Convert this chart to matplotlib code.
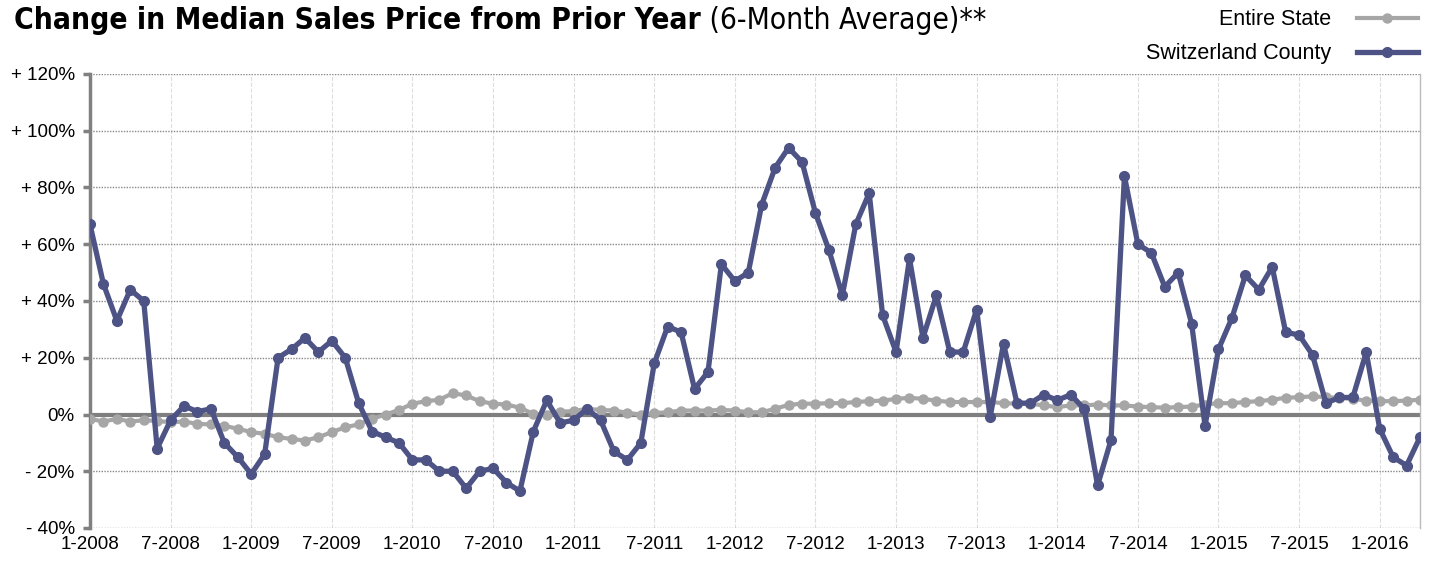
import matplotlib
matplotlib.use("Agg")
import matplotlib.pyplot as plt
from matplotlib.ticker import FixedLocator

# monthly, 1-2008 .. 4-2016
county = [67, 46, 33, 44, 40, -12, -2, 3, 1, 2, -10, -15,
          -21, -14, 20, 23, 27, 22, 26, 20, 4, -6, -8, -10,
          -16, -16, -20, -20, -26, -20, -19, -24, -27, -6, 5, -3,
          -2, 2, -2, -13, -16, -10, 18, 31, 29, 9, 15, 53,
          47, 50, 74, 87, 94, 89, 71, 58, 42, 67, 78, 35,
          22, 55, 27, 42, 22, 22, 37, -1, 25, 4, 4, 7,
          5, 7, 2, -25, -9, 84, 60, 57, 45, 50, 32, -4,
          23, 34, 49, 44, 52, 29, 28, 21, 4, 6, 6, 22,
          -5, -15, -18, -8]
state = [-1.5, -2.5, -1.5, -2.5, -2, -2.3, -2.7, -2.5, -3.3, -3.5, -4, -5,
         -6.2, -6.8, -8, -8.6, -9.2, -8, -6.2, -4.5, -3.5, -1.5, 0, 1.6,
         3.8, 4.7, 5.2, 7.5, 6.7, 4.7, 3.8, 3.5, 2.4, 0.2, 0, 1,
         1.2, 2, 1.6, 1.4, 0.6, 0, 0.5, 0.8, 1.4, 1.4, 1.4, 1.6,
         1.4, 0.8, 0.8, 2, 3.4, 3.8, 3.8, 4, 4, 4.4, 4.7, 4.9,
         5.5, 5.9, 5.5, 4.9, 4.4, 4.4, 4.4, 4.4, 4, 3.8, 3.8, 3.2,
         2.6, 3.2, 3.2, 3.5, 3.2, 3.2, 2.8, 2.6, 2.4, 2.6, 2.8, 3.5,
         4, 4, 4.4, 4.7, 5.2, 5.9, 6.1, 6.4, 6.1, 5.9, 5.5, 4.9,
         4.7, 4.7, 4.9, 5.2]
x_labels = ["1-2008", "7-2008", "1-2009", "7-2009", "1-2010", "7-2010", "1-2011", "7-2011",
            "1-2012", "7-2012", "1-2013", "7-2013", "1-2014", "7-2014", "1-2015", "7-2015", "1-2016"]
y_ticks = [-40, -20, 0, 20, 40, 60, 80, 100, 120]

navy = "#4d5485"
grey = "#a6a6a6"
plt.rcParams['font.family'] = ['Liberation Sans', 'DejaVu Sans']

fig = plt.figure(figsize=(14.29, 5.61), dpi=100)
ax = fig.add_axes([90/1429, 1-528/561, 1330/1429, 454/561])

months = list(range(len(county)))
ax.axhline(0, color="#7f7f7f", lw=3, zorder=2)
ax.plot(months, state, color=grey, lw=3, marker='o', markersize=6.5, zorder=3, label="Entire State")
ax.plot(months, county, color=navy, lw=3.8, marker='o', markersize=7, zorder=4, label="Switzerland County")

ax.set_xlim(0, len(county)-1)
ax.set_ylim(-40, 120)
ax.xaxis.set_major_locator(FixedLocator([6*i for i in range(len(x_labels))]))
ax.set_xticklabels(x_labels, fontsize=13.5)
ax.set_yticks(y_ticks)
ax.set_yticklabels([("+ %d%%" % v) if v > 0 else ("0%" if v == 0 else "- %d%%" % -v) for v in y_ticks], fontsize=13.5)
ax.tick_params(axis='x', length=0, pad=6)
ax.tick_params(axis='y', length=5, width=2.5, color="#808080", pad=6)

ax.grid(axis='y', linestyle=(0, (1, 1)), color="#888888", lw=1)
ax.grid(axis='x', linestyle='--', color="#dddddd", lw=0.8)
for s in ['top', 'bottom']:
    ax.spines[s].set_visible(False)
ax.spines['left'].set_color("#808080")
ax.spines['left'].set_linewidth(2.5)
ax.spines['right'].set_color("#bbbbbb")
ax.spines['right'].set_linestyle((0, (1, 1)))
ax.spines['right'].set_linewidth(1)

t1 = fig.text(14/1429, 1-29/561, "Change in Median Sales Price from Prior Year",
              fontsize=21.5, fontweight='bold', family='DejaVu Sans', fontstretch='condensed')
ax.annotate(" (6-Month Average)**", xycoords=t1, xy=(1, 0), va='bottom', fontsize=21.5,
            family='DejaVu Sans', fontstretch='condensed', annotation_clip=False)

fig.legend(loc='upper right', bbox_to_anchor=(1437/1429, 1.0 + 10/561), frameon=False, markerfirst=False,
           fontsize=15.5, handlelength=2.8, numpoints=1, labelspacing=0.6, handletextpad=1.2)

fig.savefig("out.png", dpi=100)
